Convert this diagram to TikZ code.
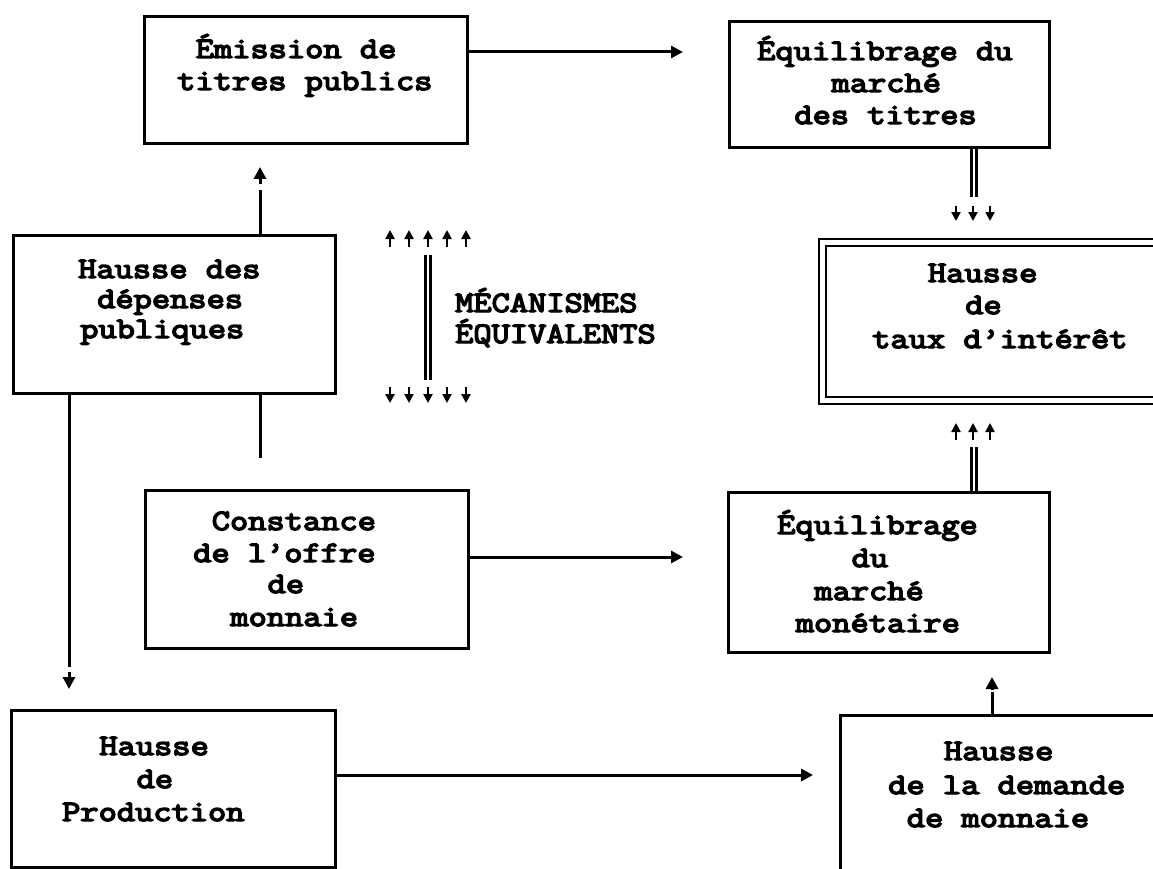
\documentclass[tikz,border=0pt]{standalone}
\usepackage{fontspec}
\setmonofont[FakeStretch=1.2, FakeBold=5]{Latin Modern Mono}
\usetikzlibrary{arrows.meta}
\begin{document}
\begin{tikzpicture}[x=1pt,y=-1pt,
  box/.style={draw, line width=3pt, inner sep=0pt},
  dblbox/.style={draw, double, line width=2pt, double distance=5pt, inner sep=0pt},
  conn/.style={line width=3pt},
  arr/.style={line width=3pt, -{Triangle[length=12pt,width=12pt]}},
  sarr/.style={line width=2.5pt, -{Triangle[length=9pt,width=9pt]}},
  dbl/.style={double, line width=2.2pt, double distance=2.8pt},
  txt/.style={anchor=base west, inner sep=0pt, font=\ttfamily\fontsize{29.5}{34}\selectfont}]
\useasboundingbox (0,0) rectangle (1153,869);
\fill[white] (0,0) rectangle (1153,869);
\clip (0,0) rectangle (1153,869);

% boxes
\node[box, minimum width=323pt, minimum height=127pt] (A) at (305.5,80.5) {};
\node[box, minimum width=320pt, minimum height=126pt] (B) at (889,85) {};
\node[dblbox, minimum width=340pt, minimum height=158pt] (C) at (992,321) {};
\node[box, minimum width=321pt, minimum height=160pt] (D) at (888.5,572) {};
\node[box, minimum width=340pt, minimum height=185pt] (E) at (1010,807.5) {};
\node[box, minimum width=324pt, minimum height=157pt] (F) at (173,788.5) {};
\node[box, minimum width=323pt, minimum height=158pt] (G) at (306.5,569) {};
\node[box, minimum width=322pt, minimum height=158pt] (H) at (174,314) {};

% texts
\node[txt] (tA1) at (195.6,58) {Émission de};
\node[txt] (tA2) at (177,90) {titres publics};
\node[txt] (tB1) at (757,60) {Équilibrage du};
\node[txt] (tB2) at (831.4,92) {marché};
\node[txt] (tB3) at (794.2,124) {des titres};
\node[txt] (tC1) at (927.8,282) {Hausse};
\node[txt] (tC2) at (965,314) {de};
\node[txt] (tC3) at (872,348) {taux d’intérêt};
\node[txt] (tH1) at (78,278) {Hausse des};
\node[txt] (tH2) at (97,308) {dépenses};
\node[txt] (tH3) at (80,338) {publiques};
\node[txt] (tM1) at (455,312) {MÉCANISMES};
\node[txt] (tM2) at (455,343) {ÉQUIVALENTS};
\node[txt] (tG1) at (211.6,530) {Constance};
\node[txt] (tG2) at (193,562) {de l’offre};
\node[txt] (tG3) at (267.4,593) {de};
\node[txt] (tG4) at (230.2,626) {monnaie};
\node[txt] (tD1) at (777,534) {Équilibrage};
\node[txt] (tD2) at (851.4,567) {du};
\node[txt] (tD3) at (814.2,600) {marché};
\node[txt] (tD4) at (795.6,632) {monétaire};
\node[txt] (tF1) at (99.2,755) {Hausse};
\node[txt] (tF2) at (136.4,788) {de};
\node[txt] (tF3) at (62,821) {Production};
\node[txt] (tE1) at (943.8,760) {Hausse};
\node[txt] (tE2) at (888,794) {de la demande};
\node[txt] (tE3) at (906.6,827) {de monnaie};

% free ends
\coordinate (tipAB) at (683,52);
\coordinate (tipGD) at (683,557);
\coordinate (tipFE) at (813,775);
\coordinate (endBC) at (974,197);
\coordinate (endDC) at (974,447);
\coordinate (endHA) at (260,190);
\coordinate (hdHA0) at (260,184);
\coordinate (hdHA1) at (260,167);
\coordinate (endHF) at (69,667);
\coordinate (hdHF0) at (69,672);
\coordinate (hdHF1) at (69,689);
\coordinate (endHG) at (260,458);
\coordinate (endED) at (992,692);
\coordinate (hdED0) at (992,690);
\coordinate (hdED1) at (992,677);

% connectors
\draw[arr] ([yshift=28.5pt]A.east) -- (tipAB);
\draw[arr] ([yshift=12pt]G.east) -- (tipGD);
\draw[arr] ([yshift=13.5pt]F.east) -- (tipFE);
\draw[dbl] ([xshift=85pt]B.south) -- (endBC);
\draw[dbl] ([xshift=85.5pt]D.north) -- (endDC);
\draw[conn] ([xshift=86pt]H.north) -- (endHA);
\draw[arr] (hdHA0) -- (hdHA1);
\draw[conn] ([xshift=-105pt]H.south) -- (endHF);
\draw[arr] (hdHF0) -- (hdHF1);
\draw[conn] ([xshift=86pt]H.south) -- (endHG);
\draw[conn] ([xshift=-18pt]E.north) -- (endED);
\draw[arr] (hdED0) -- (hdED1);

% small arrow groups
\foreach \x in {956,973,990} \draw[sarr] (\x,206) -- (\x,221);
\foreach \x in {956,973,990} \draw[sarr] (\x,440) -- (\x,423);
\foreach \x in {390,409,428,447,466} \draw[sarr] (\x,247) -- (\x,230);
\foreach \x in {390,409,428,447,466} \draw[sarr] (\x,387) -- (\x,403);
\coordinate (mTop) at (428,255);
\coordinate (mBot) at (428,380);
\draw[dbl] (mTop) -- (mBot);
\end{tikzpicture}
\end{document}
